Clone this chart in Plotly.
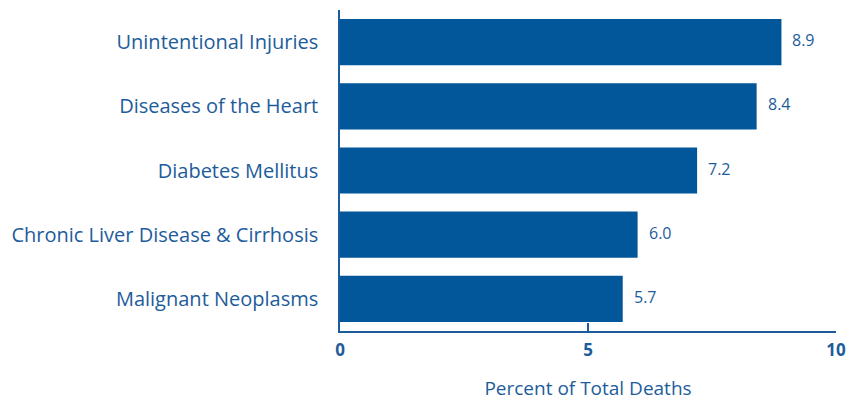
import plotly.graph_objects as go

categories = ["Unintentional Injuries", "Diseases of the Heart", "Diabetes Mellitus",
              "Chronic Liver Disease & Cirrhosis", "Malignant Neoplasms"]
values = [8.9, 8.4, 7.2, 6.0, 5.7]
x_ticks = [0, 5, 10]
x_title = "Percent of Total Deaths"

BAR = "#02569a"
TXT = "#1d5c9b"
FONT = "Open Sans"

fig = go.Figure(go.Bar(
    y=categories, x=values, orientation="h",
    marker=dict(color=BAR, line=dict(width=0)),
    width=0.72, hoverinfo="skip",
))

for c, v in zip(categories, values):
    fig.add_annotation(x=v, y=c, text=f"{v:.1f}", showarrow=False,
                       xanchor="left", xshift=9, yshift=2,
                       font=dict(family=FONT, size=16, color=TXT))

# page body has an 8px default margin, so the figure is sized to fit inside the window
fig.update_layout(
    width=850, height=394,
    margin=dict(l=332, r=22, t=2, b=71),
    plot_bgcolor="white", paper_bgcolor="white",
    showlegend=False,
    font=dict(family=FONT, color=TXT),
)
fig.update_xaxes(
    range=[0, 10], tickvals=x_ticks, ticktext=[str(t) for t in x_ticks],
    showgrid=False, zeroline=False, automargin=False,
    showline=True, linecolor=TXT, linewidth=1.5,
    ticks="inside", ticklen=8, tickwidth=1.5, tickcolor=TXT,
    ticklabelstandoff=3,
    tickfont=dict(family=FONT, size=17, color=TXT, weight="bold"),
    title=dict(text=x_title, font=dict(family=FONT, size=19, color=TXT), standoff=22),
)
fig.update_yaxes(
    autorange="reversed",
    showgrid=False, zeroline=False, automargin=False,
    showline=True, linecolor=TXT, linewidth=1.5,
    ticks="", ticklabelstandoff=16,
    tickfont=dict(family=FONT, size=20, color=TXT),
)

fig.write_html("out.html")
